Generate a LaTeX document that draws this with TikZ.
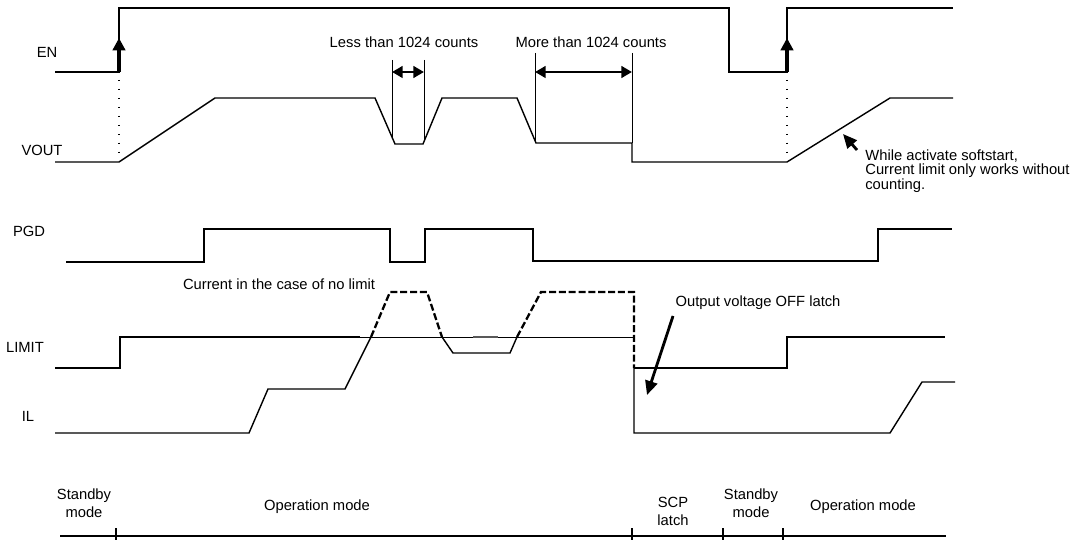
\documentclass[tikz,border=0pt]{standalone}
\usepackage{fontspec}
\setmainfont{Liberation Sans}
\usetikzlibrary{arrows.meta}

\begin{document}
\begin{tikzpicture}[x={(0.02cm,0cm)}, y={(0cm,-0.02cm)},
          font=\fontsize{8.4}{10.3}\selectfont,
          sig/.style={line width=0.8pt, line join=miter},
          thin/.style={line width=0.55pt},
          nolim/.style={line width=1.3pt, dash pattern=on 4pt off 1.6pt},
          guide/.style={line width=0.6pt, dash pattern=on 0.6pt off 4.5pt},
          edgearr/.style={line width=1.8pt, -{Triangle[length=7pt,width=7pt]}},
          span/.style={line width=1.6pt, {Triangle[length=6pt,width=6.5pt]}-{Triangle[length=6pt,width=6.5pt]}},
          call/.style={line width=1.6pt, -{Triangle[length=8pt,width=7pt]}},
          lbl/.style={inner sep=0pt},
          mode/.style={inner sep=0pt, align=center}]
        \useasboundingbox (0,0) rectangle (1074,540);
        \coordinate (enA) at (119,72);
        \coordinate (enAt) at (119,38);
        \coordinate (enB) at (787,72);
        \coordinate (enBt) at (787,38);
        \coordinate (lessL) at (392,72);
        \coordinate (lessR) at (424,72);
        \coordinate (moreL) at (535,72);
        \coordinate (moreR) at (632,72);
        \coordinate (softS) at (857,150);
        \coordinate (softE) at (843,134);
        \coordinate (offS) at (673,316);
        \coordinate (offE) at (647,395);
        \draw[sig] (55,72) -- (119,72) -- (119,8) -- (729,8) -- (729,72) -- (787,72) -- (787,8) -- (953,8);
        \draw[edgearr] (enA) -- (enAt);
        \draw[edgearr] (enB) -- (enBt);
        \draw[guide] (119,80) -- (119,160);
        \draw[guide] (787,80) -- (787,160);
        \draw[sig] (55,162) -- (119,162) -- (215,98) -- (375,98) -- (395,144) -- (423,144) -- (442,98) -- (517,98) -- (536,143) -- (632,143) -- (632,162) -- (787,162) -- (890,98) -- (953,98);
        \draw[thin] (392,60) -- (392,138);
        \draw[thin] (424,60) -- (424,141);
        \draw[thin] (535,53) -- (535,141);
        \draw[thin] (632,53) -- (632,143);
        \draw[span] (lessL) -- (lessR);
        \draw[span] (moreL) -- (moreR);
        \draw[sig] (66,262) -- (204,262) -- (204,229) -- (390,229) -- (390,262) -- (425,262) -- (425,229) -- (533,229) -- (533,261) -- (878,261) -- (878,229) -- (952,229);
        \draw[sig] (55,368) -- (120,368) -- (120,337) -- (360,337);
        \draw[thin] (360,337) -- (634,337);
        \draw[line width=1pt, black!65] (473,337) -- (498,337);
        \draw[sig] (634,368) -- (787,368) -- (787,337) -- (945,337);
        \draw[sig] (55,433) -- (249,433) -- (268,389) -- (345,389) -- (371,337);
        \draw[nolim] (371,337) -- (390,292) -- (427,292) -- (442,337);
        \draw[sig] (442,337) -- (453,353) -- (510,353) -- (517,337);
        \draw[nolim] (517,337) -- (541,292) -- (634,292) -- (634,368);
        \draw[sig] (634,368) -- (634,433) -- (890,433) -- (922,382) -- (955,382);
        \draw[call] (softS) -- (softE);
        \draw[call] (offS) -- (offE);
        \draw[sig] (60,536) -- (946,536);
        \foreach \tx in {116,632,723,783}
          \draw[sig] (\tx,528) -- (\tx,541);
        \node[lbl] (en) at (47,52) {EN};
        \node[lbl] (vout) at (42,150) {VOUT};
        \node[lbl] (pgd) at (29,231) {PGD};
        \node[lbl] (limit) at (25,347) {LIMIT};
        \node[lbl] (il) at (28,416) {IL};
        \node[lbl] (less) at (404,42) {Less than 1024 counts};
        \node[lbl] (more) at (591,42) {More than 1024 counts};
        \node[lbl] (nolimit) at (279,284) {Current in the case of no limit};
        \node[lbl] (offlatch) at (758,303) {Output voltage OFF latch};
        \node[lbl, anchor=west, align=left, font=\fontsize{8.4}{8.4}\selectfont] (soft) at (865,171) {While activate softstart,\\Current limit only works without\\counting.};
        \node[mode] (stby1) at (84,503) {Standby\\mode};
        \node[mode] (op1) at (317,507) {Operation mode};
        \node[mode] (scp) at (673,511) {SCP\\latch};
        \node[mode] (stby2) at (751,503) {Standby\\mode};
        \node[mode] (op2) at (863,507) {Operation mode};
      \end{tikzpicture}
\end{document}
